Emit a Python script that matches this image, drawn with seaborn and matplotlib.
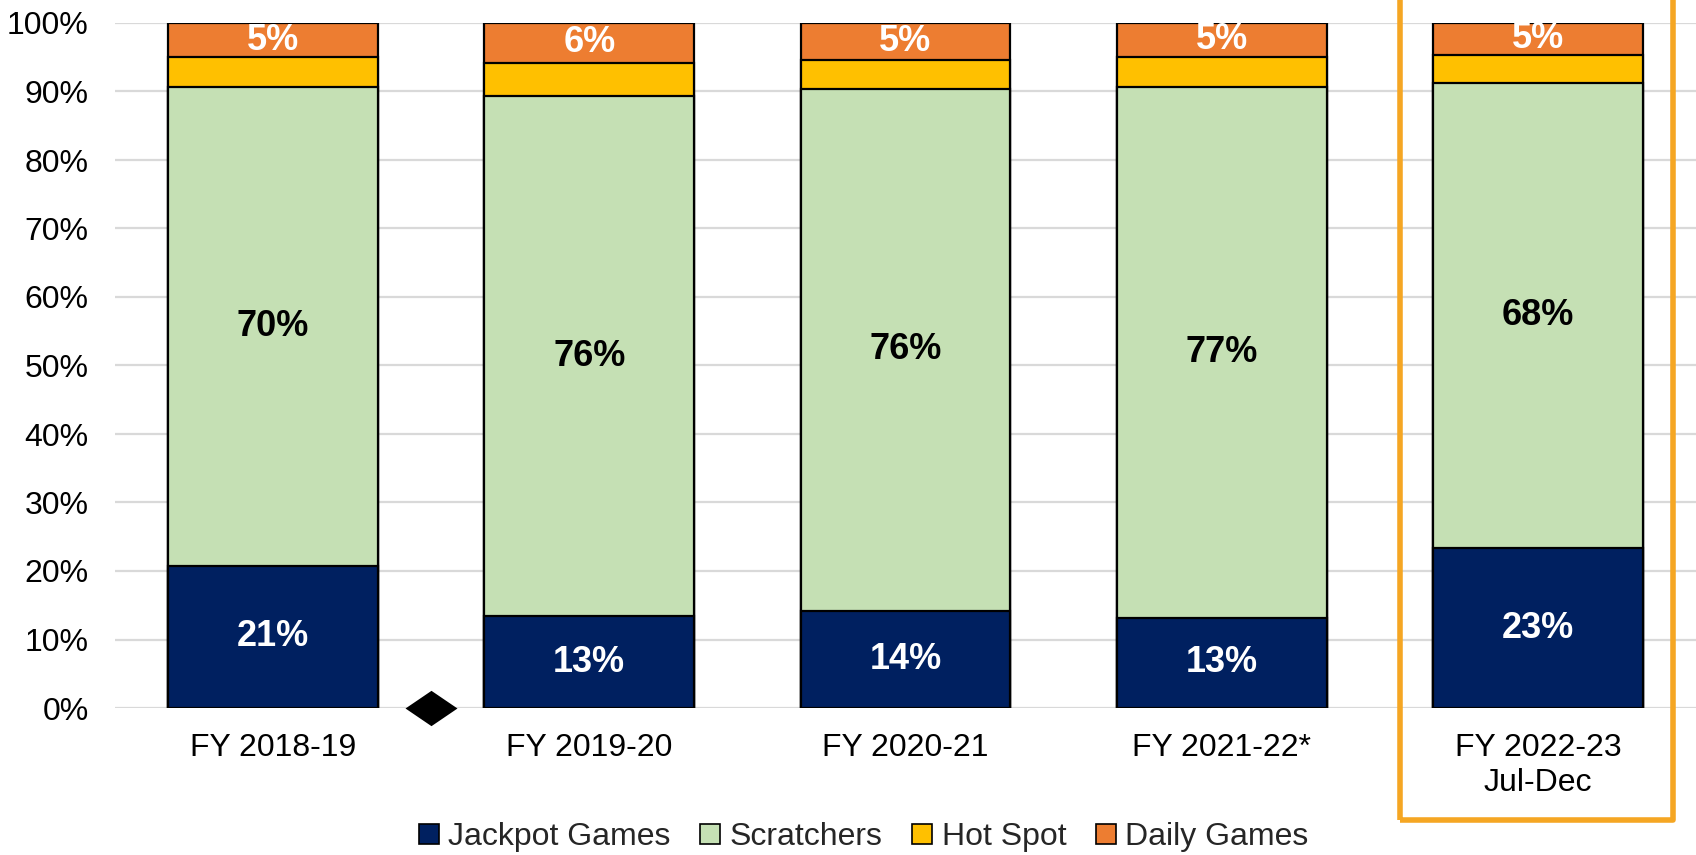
import matplotlib
matplotlib.use("Agg")
import matplotlib.pyplot as plt
import matplotlib.patches as mpatches
import matplotlib.transforms as mtransforms
from matplotlib.path import Path
from matplotlib.lines import Line2D
import numpy as np
import pandas as pd
import seaborn as sns

categories = ["FY 2018-19", "FY 2019-20", "FY 2020-21", "FY 2021-22*", "FY 2022-23\nJul-Dec"]
jackpot = [20.8, 13.4, 14.2, 13.2, 23.3]
scratchers = [69.8, 75.9, 76.2, 77.4, 67.9]
hot_spot = [4.4, 4.9, 4.2, 4.5, 4.2]
daily = [5.0, 5.8, 5.4, 4.9, 4.6]
series_names = ["Jackpot Games", "Scratchers", "Hot Spot", "Daily Games"]
colors = ["#002060", "#C5E0B4", "#FFC000", "#ED7D31"]
label_colors = ["white", "black", None, "white"]
yticks = [0, 10, 20, 30, 40, 50, 60, 70, 80, 90, 100]

sns.set_style("white")
plt.rcParams["font.family"] = ["Liberation Sans", "DejaVu Sans"]

fig = plt.figure(figsize=(16.96, 8.55), dpi=100)
ax = fig.add_axes([115 / 1696, (855 - 708) / 855, 1 - 115 / 1696, (708 - 23) / 855])

series = [jackpot, scratchers, hot_spot, daily]
arr = np.array(series)
cum = np.cumsum(arr, axis=0)
df = pd.DataFrame({"cat": categories})

# draw stacked bars from top layer down
for i in range(len(series) - 1, -1, -1):
    sns.barplot(x=df["cat"], y=cum[i], color=colors[i], saturation=1,
                edgecolor="black", linewidth=1.6, width=0.664, ax=ax, zorder=3)

# labels
for i, vals in enumerate(series):
    if label_colors[i] is None:
        continue
    for j, v in enumerate(vals):
        mid = cum[i][j] - v / 2
        ax.text(j, mid, f"{v:.0f}%", ha="center", va="center", fontsize=26,
                fontweight="bold", color=label_colors[i], zorder=5)

ax.set_ylim(0, 100)
ax.set_xlim(-0.5, len(categories) - 0.5)
ax.set_yticks(yticks)
ax.set_yticklabels([f"{t}%" for t in yticks])
ax.yaxis.grid(True, color="#D9D9D9", linewidth=1.6, zorder=0)
ax.set_axisbelow(True)
for s in ax.spines.values():
    s.set_visible(False)
ax.tick_params(axis="both", length=0, labelsize=23, colors="black")
ax.tick_params(axis="y", pad=19)
ax.tick_params(axis="x", pad=18)
ax.set_xlabel("")
ax.set_ylabel("")

# diamond marker on axis
diamond = Path([(-1, 0), (0, 0.68), (1, 0), (0, -0.68), (-1, 0)],
               [Path.MOVETO, Path.LINETO, Path.LINETO, Path.LINETO, Path.CLOSEPOLY])
ax.scatter([0.5], [0], marker=diamond, s=1400, color="black", clip_on=False, zorder=6,
           linewidths=0)

# highlight box around last bar
trans = mtransforms.blended_transform_factory(ax.transData, fig.transFigure)
rect = mpatches.Rectangle((3.564, 1 - 820 / 855), 0.863, 1.2, transform=trans,
                          fill=False, edgecolor="#F5A623", linewidth=4, clip_on=False,
                          joinstyle="round", zorder=7)
fig.patches.append(rect)

handles = [Line2D([0], [0], marker="s", linestyle="", markersize=14,
                  markerfacecolor=c, markeredgecolor="black", markeredgewidth=1.2)
           for c in colors]
fig.legend(handles, series_names, loc="center", bbox_to_anchor=(0.508, 0.021),
           ncol=4, frameon=False, fontsize=23, handletextpad=0.15, columnspacing=0.8,
           handlelength=0.9)

fig.savefig("out.png", dpi=100)
